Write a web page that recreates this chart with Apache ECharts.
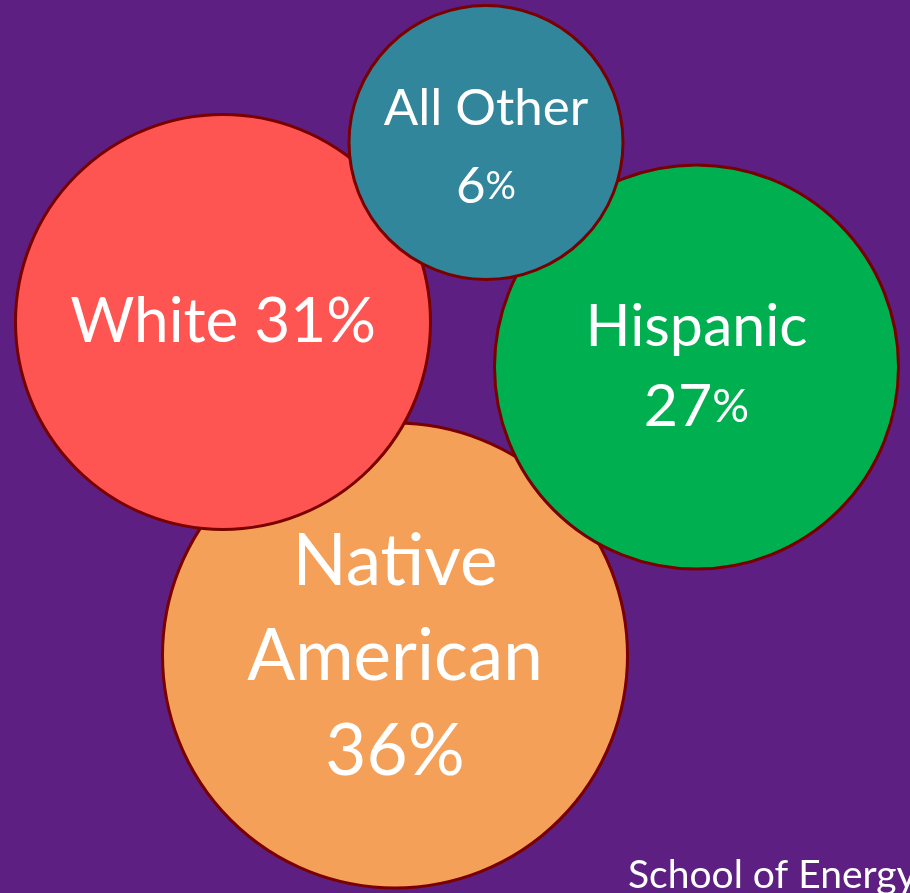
<!DOCTYPE html>
<html>
<head>
<meta charset="utf-8">
<style>
html,body{margin:0;padding:0;background:#5e1f82;}
#chart{width:910px;height:893px;}
</style>
<script src="https://cdn.jsdelivr.net/npm/echarts@6/dist/echarts.min.js"></script>
</head>
<body>
<div id="chart"></div>
<script>
// Data (drawn in this order: later bubbles sit on top)
const categories = ['Native American', 'White', 'Hispanic', 'All Other'];
const shares = [36, 31, 27, 6];
// bubble-pack layout (chart units) and bubble diameters
const layoutX = [395, 223, 696.5, 486];
const layoutY = [655.5, 322, 367, 142.5];
const bubbleDiameter = [465, 415, 404, 274];

const colors = ['#f4a058', '#ff5552', '#00b050', '#31869b'];
const labelText = [
  '{big|Native}\n{big|American}\n{big|36%}',
  '{mid|White 31%}',
  '{mid2|Hispanic}\n{mid2|27}{midp|%}',
  '{sm|All Other}\n{sm|6}{smp|%}'
];
const labelShift = [[0, 2], [0, 0], [0, 0], [0, 5]];

const data = categories.map((c, i) => ({
  name: c,
  value: [layoutX[i], layoutY[i], shares[i]],
  symbolSize: bubbleDiameter[i],
  itemStyle: { color: colors[i] },
  label: { formatter: labelText[i], offset: labelShift[i] }
}));

const FONT = 'Lato';
const chart = echarts.init(document.getElementById('chart'), null, { renderer: 'canvas' });
chart.setOption({
  backgroundColor: '#5e1f82',
  animation: false,
  grid: { left: 0, right: 0, top: 0, bottom: 0 },
  xAxis: { type: 'value', min: 0, max: 910, show: false },
  yAxis: { type: 'value', min: 0, max: 893, inverse: true, show: false },
  graphic: [{
    type: 'text',
    left: 628,
    top: 856,
    style: { text: 'School of Energy Resources', fill: '#ffffff', font: '39px ' + FONT }
  }],
  series: [{
    type: 'scatter',
    symbol: 'circle',
    data: data,
    itemStyle: { borderColor: '#7a0000', borderWidth: 3, opacity: 1 },
    emphasis: { disabled: true },
    label: {
      show: true,
      position: 'inside',
      color: '#ffffff',
      fontFamily: FONT,
      align: 'center',
      verticalAlign: 'middle',
      rich: {
        big: { fontSize: 71, lineHeight: 95, color: '#fff', fontFamily: FONT },
        mid: { fontSize: 62, lineHeight: 80, color: '#fff', fontFamily: FONT },
        mid2: { fontSize: 59, lineHeight: 80, color: '#fff', fontFamily: FONT },
        midp: { fontSize: 46, lineHeight: 80, color: '#fff', fontFamily: FONT },
        sm: { fontSize: 51, lineHeight: 78, color: '#fff', fontFamily: FONT },
        smp: { fontSize: 38, lineHeight: 78, color: '#fff', fontFamily: FONT }
      }
    }
  }]
});
</script>
</body>
</html>
